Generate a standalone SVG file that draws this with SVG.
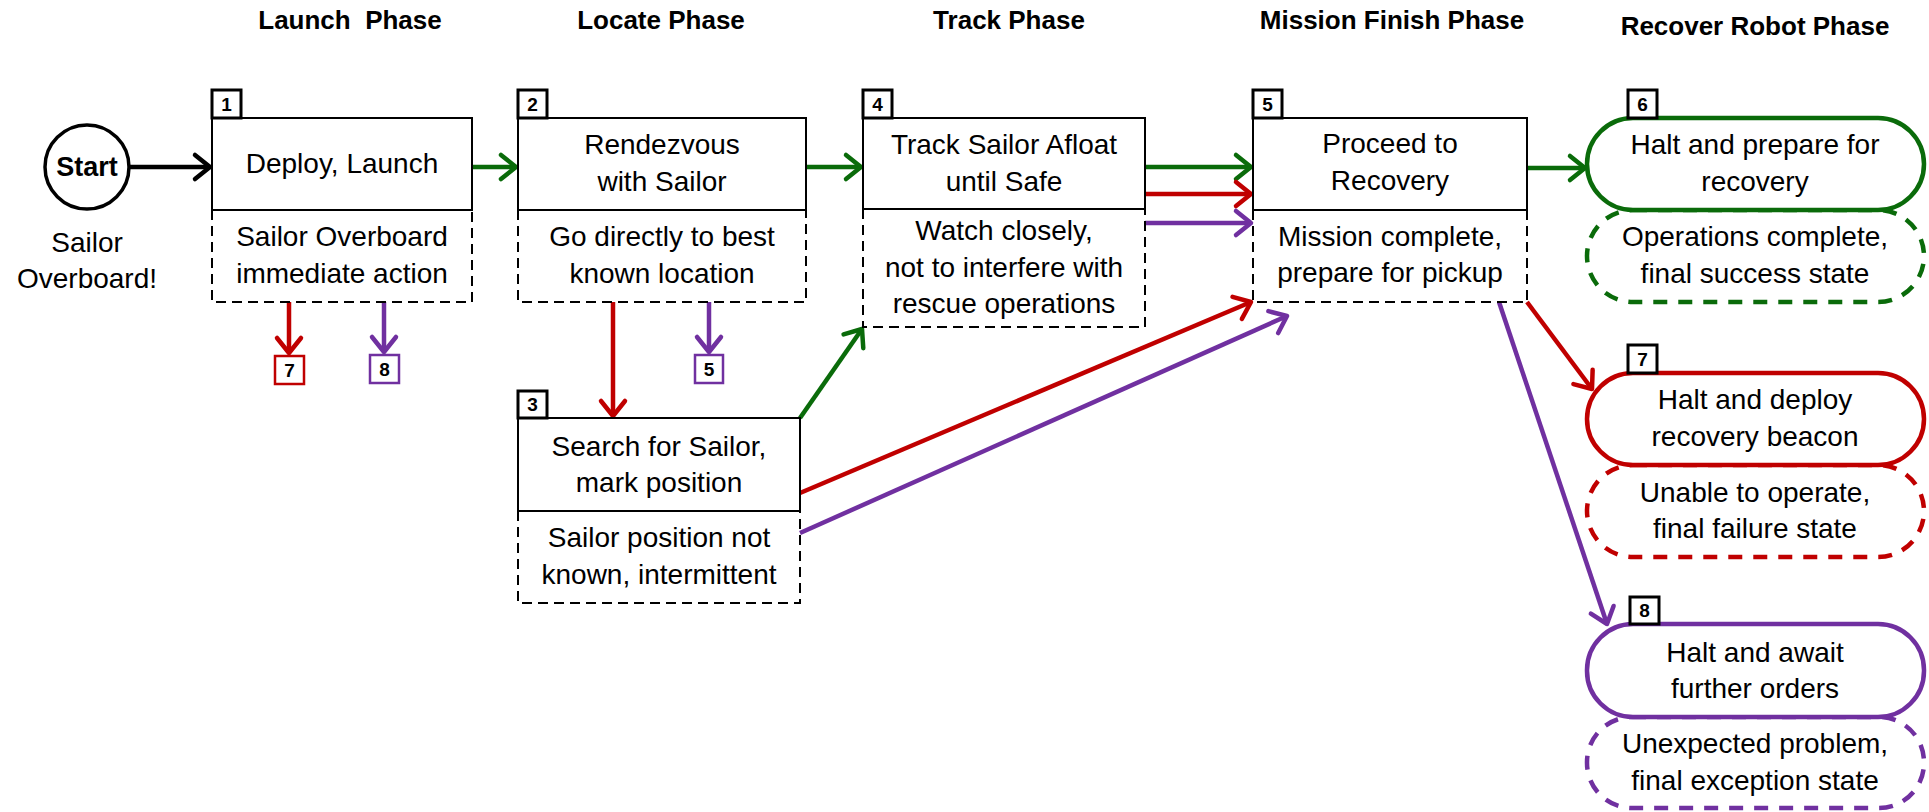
<svg xmlns="http://www.w3.org/2000/svg" width="1929" height="812" viewBox="0 0 1929 812">
<style>
text{font-family:"Liberation Sans",Arial,sans-serif;fill:#000;text-anchor:middle}
.t{font-size:28px}
.title{font-size:26px;font-weight:bold}
.box{fill:#fff;stroke:#000;stroke-width:2}
.dash{fill:none;stroke:#000;stroke-width:2;stroke-dasharray:10 6}
.num rect{fill:#fff;stroke:#000;stroke-width:3}
.num text,.mini text{font-size:19px;font-weight:bold}
.mini rect{fill:#fff;stroke-width:2.5}
.c{fill:none;stroke-width:4.5}
.g{stroke:#0A6B0A}.r{stroke:#C00000}.p{stroke:#7030A0}.k{stroke:#000}
.pill{fill:#fff;stroke-width:4.5}
.dpill{fill:#fff;stroke-width:4.5;stroke-dasharray:14 11}
</style>
<defs>
<marker id="mg" viewBox="-20 -16 24 32" markerWidth="24" markerHeight="32" refX="0" refY="0" orient="auto" markerUnits="userSpaceOnUse"><path d="M-15,-12 L0,0 L-15,12" fill="none" stroke="#0A6B0A" stroke-width="4.5" stroke-linecap="round" stroke-linejoin="round"/></marker>
<marker id="mr" viewBox="-20 -16 24 32" markerWidth="24" markerHeight="32" refX="0" refY="0" orient="auto" markerUnits="userSpaceOnUse"><path d="M-15,-12 L0,0 L-15,12" fill="none" stroke="#C00000" stroke-width="4.5" stroke-linecap="round" stroke-linejoin="round"/></marker>
<marker id="mp" viewBox="-20 -16 24 32" markerWidth="24" markerHeight="32" refX="0" refY="0" orient="auto" markerUnits="userSpaceOnUse"><path d="M-15,-12 L0,0 L-15,12" fill="none" stroke="#7030A0" stroke-width="4.5" stroke-linecap="round" stroke-linejoin="round"/></marker>
<marker id="mk" viewBox="-20 -16 24 32" markerWidth="24" markerHeight="32" refX="0" refY="0" orient="auto" markerUnits="userSpaceOnUse"><path d="M-15,-12 L0,0 L-15,12" fill="none" stroke="#000" stroke-width="4.5" stroke-linecap="round" stroke-linejoin="round"/></marker>
</defs>
<rect width="1929" height="812" fill="#fff"/>

<g id="titles">
<text class="title" x="350" y="29" xml:space="preserve">Launch  Phase</text>
<text class="title" x="661" y="29">Locate Phase</text>
<text class="title" x="1009" y="29">Track Phase</text>
<text class="title" x="1392" y="29">Mission Finish Phase</text>
<text class="title" x="1755" y="35">Recover Robot Phase</text>
</g>

<g id="connectors">
<line class="c k" x1="129" y1="167" x2="210" y2="167" marker-end="url(#mk)"/>
<line class="c g" x1="472" y1="167" x2="516" y2="167" marker-end="url(#mg)"/>
<line class="c g" x1="806" y1="167" x2="861" y2="167" marker-end="url(#mg)"/>
<line class="c g" x1="1145" y1="167" x2="1251" y2="167" marker-end="url(#mg)"/>
<line class="c r" x1="1145" y1="194" x2="1251" y2="194" marker-end="url(#mr)"/>
<line class="c p" x1="1145" y1="223" x2="1251" y2="223" marker-end="url(#mp)"/>
<line class="c g" x1="1527" y1="168" x2="1585" y2="168" marker-end="url(#mg)"/>
<line class="c r" x1="289" y1="302" x2="289" y2="353" marker-end="url(#mr)"/>
<line class="c p" x1="384" y1="302" x2="384" y2="352" marker-end="url(#mp)"/>
<line class="c r" x1="613" y1="302" x2="613" y2="416" marker-end="url(#mr)"/>
<line class="c p" x1="709" y1="302" x2="709" y2="352" marker-end="url(#mp)"/>
<line class="c g" x1="800" y1="418" x2="862" y2="329" marker-end="url(#mg)"/>
<line class="c r" x1="800" y1="493" x2="1251" y2="302" marker-end="url(#mr)"/>
<line class="c p" x1="800" y1="533" x2="1287" y2="316" marker-end="url(#mp)"/>
<line class="c r" x1="1527" y1="302" x2="1592" y2="389" marker-end="url(#mr)"/>
<line class="c p" x1="1499" y1="302" x2="1607" y2="624" marker-end="url(#mp)"/>
</g>

<g id="start">
<circle cx="87" cy="167" r="42" fill="#fff" stroke="#000" stroke-width="3.5"/>
<text x="87" y="176" style="font-size:27px;font-weight:bold">Start</text>
<text class="t" x="87" y="252">Sailor</text>
<text class="t" x="87" y="288">Overboard!</text>
</g>

<g id="n1">
<path class="dash" d="M212,210 V302 H472 V210"/>
<rect class="box" x="212" y="118" width="260" height="92"/>
<text class="t" x="342" y="173">Deploy, Launch</text>
<text class="t" x="342" y="246">Sailor Overboard</text>
<text class="t" x="342" y="283">immediate action</text>
<g class="num"><rect x="212" y="90" width="29" height="28"/><text x="226.5" y="111">1</text></g>
</g>

<g id="n1-to7" class="mini"><rect x="275" y="356" width="29" height="28" stroke="#C00000"/><text x="289.5" y="377">7</text></g>
<g id="n1-to8" class="mini"><rect x="370" y="355" width="29" height="28" stroke="#7030A0"/><text x="384.5" y="376">8</text></g>

<g id="n2">
<path class="dash" d="M518,210 V302 H806 V210"/>
<rect class="box" x="518" y="118" width="288" height="92"/>
<text class="t" x="662" y="154">Rendezvous</text>
<text class="t" x="662" y="191">with Sailor</text>
<text class="t" x="662" y="246">Go directly to best</text>
<text class="t" x="662" y="283">known location</text>
<g class="num"><rect x="518" y="90" width="29" height="28"/><text x="532.5" y="111">2</text></g>
</g>

<g id="n2-to5" class="mini"><rect x="695" y="355" width="28" height="28" stroke="#7030A0"/><text x="709" y="376">5</text></g>

<g id="n3">
<path class="dash" d="M518,511 V603 H800 V511"/>
<rect class="box" x="518" y="418" width="282" height="93"/>
<text class="t" x="659" y="456">Search for Sailor,</text>
<text class="t" x="659" y="492">mark position</text>
<text class="t" x="659" y="547">Sailor position not</text>
<text class="t" x="659" y="584">known, intermittent</text>
<g class="num"><rect x="518" y="391" width="29" height="27"/><text x="532.5" y="411">3</text></g>
</g>

<g id="n4">
<path class="dash" d="M863,209 V327 H1145 V209"/>
<rect class="box" x="863" y="118" width="282" height="91"/>
<text class="t" x="1004" y="154">Track Sailor Afloat</text>
<text class="t" x="1004" y="191">until Safe</text>
<text class="t" x="1004" y="240">Watch closely,</text>
<text class="t" x="1004" y="277">not to interfere with</text>
<text class="t" x="1004" y="313">rescue operations</text>
<g class="num"><rect x="863" y="90" width="29" height="28"/><text x="877.5" y="111">4</text></g>
</g>

<g id="n5">
<path class="dash" d="M1253,210 V302 H1527 V210"/>
<rect class="box" x="1253" y="118" width="274" height="92"/>
<text class="t" x="1390" y="153">Proceed to</text>
<text class="t" x="1390" y="190">Recovery</text>
<text class="t" x="1390" y="246">Mission complete,</text>
<text class="t" x="1390" y="282">prepare for pickup</text>
<g class="num"><rect x="1253" y="90" width="29" height="28"/><text x="1267.5" y="111">5</text></g>
</g>

<g id="n6">
<rect class="dpill g" x="1587" y="210" width="337" height="92" rx="46" ry="46"/>
<rect class="pill g" x="1587" y="118" width="337" height="92" rx="46" ry="46"/>
<text class="t" x="1755" y="154">Halt and prepare for</text>
<text class="t" x="1755" y="191">recovery</text>
<text class="t" x="1755" y="246">Operations complete,</text>
<text class="t" x="1755" y="283">final success state</text>
<g class="num"><rect x="1628" y="90" width="29" height="28"/><text x="1642.5" y="111">6</text></g>
</g>

<g id="n7">
<rect class="dpill r" x="1587" y="465" width="337" height="92" rx="46" ry="46"/>
<rect class="pill r" x="1587" y="373" width="337" height="92" rx="46" ry="46"/>
<text class="t" x="1755" y="409">Halt and deploy</text>
<text class="t" x="1755" y="446">recovery beacon</text>
<text class="t" x="1755" y="502">Unable to operate,</text>
<text class="t" x="1755" y="538">final failure state</text>
<g class="num"><rect x="1628" y="345" width="29" height="28"/><text x="1642.5" y="366">7</text></g>
</g>

<g id="n8">
<rect class="dpill p" x="1587" y="717" width="337" height="91" rx="45" ry="45"/>
<rect class="pill p" x="1587" y="624" width="337" height="93" rx="46" ry="46"/>
<text class="t" x="1755" y="662">Halt and await</text>
<text class="t" x="1755" y="698">further orders</text>
<text class="t" x="1755" y="753">Unexpected problem,</text>
<text class="t" x="1755" y="790">final exception state</text>
<g class="num"><rect x="1630" y="597" width="29" height="27"/><text x="1644.5" y="617">8</text></g>
</g>
</svg>
